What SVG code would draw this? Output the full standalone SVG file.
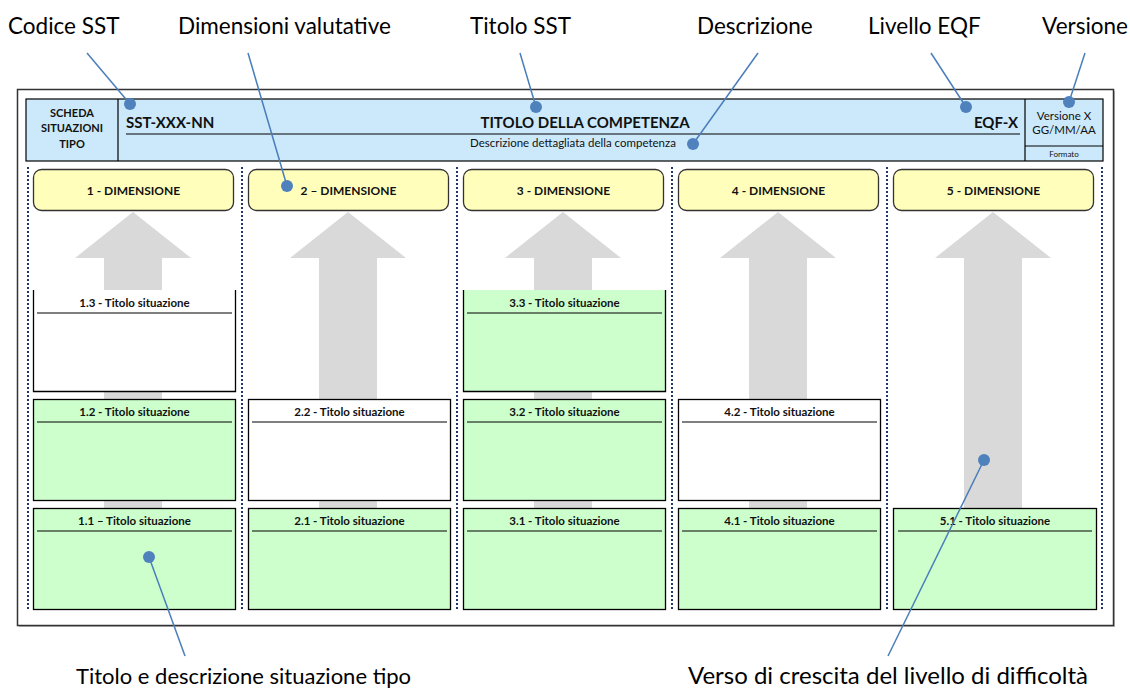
<svg xmlns="http://www.w3.org/2000/svg" width="1130" height="690" viewBox="0 0 1130 690">
<style>
.lbl{font-family:Lato,"Open Sans","Liberation Sans",sans-serif;font-size:22.5px;fill:#000}
.b{font-family:Lato,"Liberation Sans",sans-serif;font-weight:bold;fill:#111}
.r{font-family:Lato,"Liberation Sans",sans-serif;fill:#111}
.st{font-size:11.5px;text-anchor:middle}
.dt{font-size:12px;text-anchor:middle}
.dim{fill:#ffffbb;stroke:#333;stroke-width:1.3}
.sit{stroke:#000;stroke-width:1.3}
.g{fill:#ccffcc}
.w{fill:#fff}
.hl{stroke:#000;stroke-width:1.2}
.sep{stroke:#1f3864;stroke-width:2;stroke-dasharray:2 2}
.arr{fill:#d9d9d9}
.cl{stroke:#4a7ebb;stroke-width:1.5;fill:none}
.dot{fill:#4f81bd}
</style>
<rect width="1130" height="690" fill="#fff"/>
<g id="frame">
<rect x="19" y="91" width="1096" height="536" fill="#bbb"/>
<rect x="17.5" y="89.5" width="1096" height="536" fill="#fff" stroke="#333" stroke-width="1.5"/>
</g>
<g id="header">
<rect x="26" y="99" width="1077" height="62" fill="#cce9fb" stroke="#000" stroke-width="1.2"/>
<line x1="118" y1="99" x2="118" y2="161" stroke="#000" stroke-width="1.2"/>
<line x1="1025" y1="99" x2="1025" y2="161" stroke="#000" stroke-width="1.2"/>
<line x1="1025" y1="146" x2="1103" y2="146" stroke="#000" stroke-width="1"/>
<line x1="126" y1="134" x2="1020" y2="134" stroke="#000" stroke-width="1.2"/>
<text class="b" font-size="11" text-anchor="middle" x="72" y="117">SCHEDA</text>
<text class="b" font-size="11" text-anchor="middle" x="72" y="132">SITUAZIONI</text>
<text class="b" font-size="11" text-anchor="middle" x="72" y="148">TIPO</text>
<text class="b" font-size="15" x="126" y="128">SST-XXX-NN</text>
<text class="b" font-size="15" text-anchor="middle" x="585" y="128">TITOLO DELLA COMPETENZA</text>
<text class="b" font-size="15" text-anchor="end" x="1018" y="128">EQF-X</text>
<text class="r" font-size="11.5" text-anchor="middle" x="573" y="147">Descrizione dettagliata della competenza</text>
<text class="r" font-size="11.5" text-anchor="middle" x="1064" y="120">Versione X</text>
<text class="r" font-size="11.5" text-anchor="middle" x="1064" y="134">GG/MM/AA</text>
<text class="r" font-size="8" text-anchor="middle" x="1064" y="157">Formato</text>
</g>
<g id="separators">
<line class="sep" x1="28" y1="167" x2="28" y2="610"/>
<line class="sep" x1="242" y1="167" x2="242" y2="610"/>
<line class="sep" x1="457" y1="167" x2="457" y2="610"/>
<line class="sep" x1="672" y1="167" x2="672" y2="610"/>
<line class="sep" x1="887" y1="167" x2="887" y2="610"/>
<line class="sep" x1="1102" y1="167" x2="1102" y2="610"/>
</g>
<g id="arrows">
<path class="arr" d="M133,212 L191,258 L162,258 L162,508 L104,508 L104,258 L75,258 Z"/>
<path class="arr" d="M348,212 L406,258 L377,258 L377,508 L319,508 L319,258 L290,258 Z"/>
<path class="arr" d="M563,212 L621,258 L592,258 L592,508 L534,508 L534,258 L505,258 Z"/>
<path class="arr" d="M778,212 L836,258 L807,258 L807,508 L749,508 L749,258 L720,258 Z"/>
<path class="arr" d="M993,212 L1051,258 L1022,258 L1022,508 L964,508 L964,258 L935,258 Z"/>
</g>
<g id="dim1"><rect class="dim" x="33.5" y="169.5" width="200" height="41" rx="8"/><text class="b dt" x="133.5" y="195">1 - DIMENSIONE</text></g>
<g id="dim2"><rect class="dim" x="248.5" y="169.5" width="200" height="41" rx="8"/><text class="b dt" x="348.5" y="195">2 – DIMENSIONE</text></g>
<g id="dim3"><rect class="dim" x="463.5" y="169.5" width="200" height="41" rx="8"/><text class="b dt" x="563.5" y="195">3 - DIMENSIONE</text></g>
<g id="dim4"><rect class="dim" x="678.5" y="169.5" width="200" height="41" rx="8"/><text class="b dt" x="778.5" y="195">4 - DIMENSIONE</text></g>
<g id="dim5"><rect class="dim" x="893.5" y="169.5" width="200" height="41" rx="8"/><text class="b dt" x="993.5" y="195">5 - DIMENSIONE</text></g>
<g id="s13"><rect class="w" x="33.5" y="290" width="202" height="101.5"/><path class="sit" fill="none" d="M33.5,290 V391.5 H235.5 V290"/><line class="hl" x1="37" y1="313" x2="232" y2="313"/><text class="b st" x="134.5" y="307">1.3 - Titolo situazione</text></g>
<g id="s12"><rect class="sit g" x="33.5" y="399.5" width="202" height="101"/><line class="hl" x1="37" y1="422" x2="232" y2="422"/><text class="b st" x="134.5" y="416">1.2 - Titolo situazione</text></g>
<g id="s11"><rect class="sit g" x="33.5" y="508.5" width="202" height="101"/><line class="hl" x1="37" y1="531" x2="232" y2="531"/><text class="b st" x="134.5" y="525">1.1 – Titolo situazione</text></g>
<g id="s22"><rect class="sit w" x="248.5" y="399.5" width="202" height="101"/><line class="hl" x1="252" y1="422" x2="447" y2="422"/><text class="b st" x="349.5" y="416">2.2 - Titolo situazione</text></g>
<g id="s21"><rect class="sit g" x="248.5" y="508.5" width="202" height="101"/><line class="hl" x1="252" y1="531" x2="447" y2="531"/><text class="b st" x="349.5" y="525">2.1 - Titolo situazione</text></g>
<g id="s33"><rect class="g" x="463.5" y="290" width="202" height="101.5"/><path class="sit" fill="none" d="M463.5,290 V391.5 H665.5 V290"/><line class="hl" x1="467" y1="313" x2="662" y2="313"/><text class="b st" x="564.5" y="307">3.3 - Titolo situazione</text></g>
<g id="s32"><rect class="sit g" x="463.5" y="399.5" width="202" height="101"/><line class="hl" x1="467" y1="422" x2="662" y2="422"/><text class="b st" x="564.5" y="416">3.2 - Titolo situazione</text></g>
<g id="s31"><rect class="sit g" x="463.5" y="508.5" width="202" height="101"/><line class="hl" x1="467" y1="531" x2="662" y2="531"/><text class="b st" x="564.5" y="525">3.1 - Titolo situazione</text></g>
<g id="s42"><rect class="sit w" x="678.5" y="399.5" width="202" height="101"/><line class="hl" x1="682" y1="422" x2="877" y2="422"/><text class="b st" x="779.5" y="416">4.2 - Titolo situazione</text></g>
<g id="s41"><rect class="sit g" x="678.5" y="508.5" width="202" height="101"/><line class="hl" x1="682" y1="531" x2="877" y2="531"/><text class="b st" x="779.5" y="525">4.1 - Titolo situazione</text></g>
<g id="s51"><rect class="sit g" x="893.5" y="508.5" width="203" height="101"/><line class="hl" x1="898" y1="531" x2="1092" y2="531"/><text class="b st" x="995" y="525">5.1 - Titolo situazione</text></g>
<g id="labels">
<text class="lbl" x="8" y="34">Codice SST</text>
<text class="lbl" x="178" y="34">Dimensioni valutative</text>
<text class="lbl" x="470" y="34">Titolo SST</text>
<text class="lbl" x="697" y="34">Descrizione</text>
<text class="lbl" x="868" y="34">Livello EQF</text>
<text class="lbl" text-anchor="end" x="1128" y="34">Versione</text>
<text class="lbl" x="76" y="684" style="font-size:22px">Titolo e descrizione situazione tipo</text>
<text class="lbl" x="688" y="684" style="font-size:24px">Verso di crescita del livello di difficoltà</text>
</g>
<g id="connectors">
<line class="cl" x1="87" y1="53" x2="130" y2="104"/>
<line class="cl" x1="248" y1="53" x2="287" y2="186"/>
<line class="cl" x1="520" y1="53" x2="536" y2="107"/>
<line class="cl" x1="758" y1="53" x2="693" y2="144"/>
<line class="cl" x1="931" y1="53" x2="966" y2="107"/>
<line class="cl" x1="1085" y1="53" x2="1069" y2="102"/>
<line class="cl" x1="149" y1="557" x2="185" y2="656"/>
<line class="cl" x1="984" y1="460" x2="888" y2="656"/>
<circle class="dot" cx="130" cy="104" r="6"/>
<circle class="dot" cx="287" cy="186" r="6"/>
<circle class="dot" cx="536" cy="107" r="6"/>
<circle class="dot" cx="693" cy="144" r="6"/>
<circle class="dot" cx="966" cy="107" r="6"/>
<circle class="dot" cx="1069" cy="102" r="6"/>
<circle class="dot" cx="149" cy="557" r="6"/>
<circle class="dot" cx="984" cy="460" r="6"/>
</g>
</svg>
